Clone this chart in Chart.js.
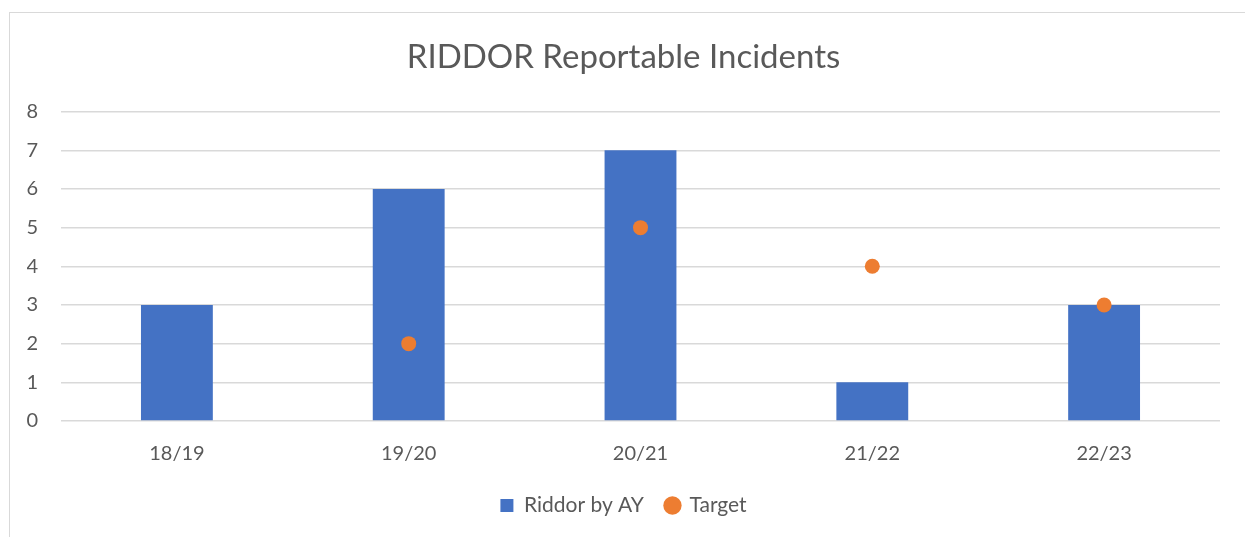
<!DOCTYPE html>
<html>
<head>
<meta charset="utf-8">
<script src="https://cdn.jsdelivr.net/npm/chart.js@4"></script>
<style>
  html, body { margin: 0; padding: 0; background: #fff; overflow: hidden; }
  #frame {
    position: absolute; left: 9px; top: 12px; width: 1260px; height: 560px;
    border: 1.5px solid #d9d9d9; box-sizing: border-box;
  }
  #wrap { position: absolute; left: 0; top: 0; width: 1245px; height: 537px; }
</style>
</head>
<body>
<div id="frame"></div>
<div id="wrap"><canvas id="riddorChart"></canvas></div>
<script>
const years = ["18/19", "19/20", "20/21", "21/22", "22/23"];
const riddorByAY = [3, 6, 7, 1, 3];
const target = [null, 2, 5, 4, 3];

const textColor = "#595959";
const gridColor = "#d9d9d9";

const ctx = document.getElementById("riddorChart").getContext("2d");
new Chart(ctx, {
    type: "bar",
    data: {
        labels: years,
        datasets: [{
            type: "line",
            label: "Target",
            data: target,
            showLine: false,
            pointStyle: "circle",
            pointRadius: 7.5,
            pointHoverRadius: 7.5,
            backgroundColor: "#ED7D31",
            borderColor: "#ED7D31",
            borderWidth: 0,
            order: 0
        }, {
            label: "Riddor by AY",
            data: riddorByAY,
            backgroundColor: "#4472C4",
            borderColor: "#4472C4",
            pointStyle: "rect",
            categoryPercentage: 1,
            barPercentage: 0.31,
            order: 1
        }]
    },
    options: {
        responsive: true,
        maintainAspectRatio: false,
        animation: false,
        layout: { padding: { left: 27, right: 25, top: 0, bottom: 11 } },
        plugins: {
            title: {
                display: true,
                text: "RIDDOR Reportable Incidents",
                color: textColor,
                font: { family: "Lato", size: 33, weight: "normal" },
                padding: { top: 38, bottom: 34 }
            },
            legend: {
                position: "bottom",
                reverse: true,
                labels: {
                    color: textColor,
                    font: { family: "Lato", size: 21 },
                    usePointStyle: true,
                    boxWidth: 13,
                    boxHeight: 13,
                    padding: 22
                }
            },
            tooltip: { enabled: false }
        },
        scales: {
            x: {
                afterFit: (scale) => { scale.height = 52; },
                grid: { display: false, drawTicks: false },
                border: { display: false },
                ticks: { color: textColor, font: { family: "Lato", size: 20 }, padding: 21 }
            },
            y: {
                min: 0,
                max: 8,
                afterFit: (scale) => { scale.width = 34; },
                ticks: { stepSize: 1, color: textColor, font: { family: "Lato", size: 20 }, padding: 23 },
                grid: { color: gridColor, lineWidth: 1.5, drawTicks: false },
                border: { display: false }
            }
        }
    }
});
</script>
</body>
</html>
